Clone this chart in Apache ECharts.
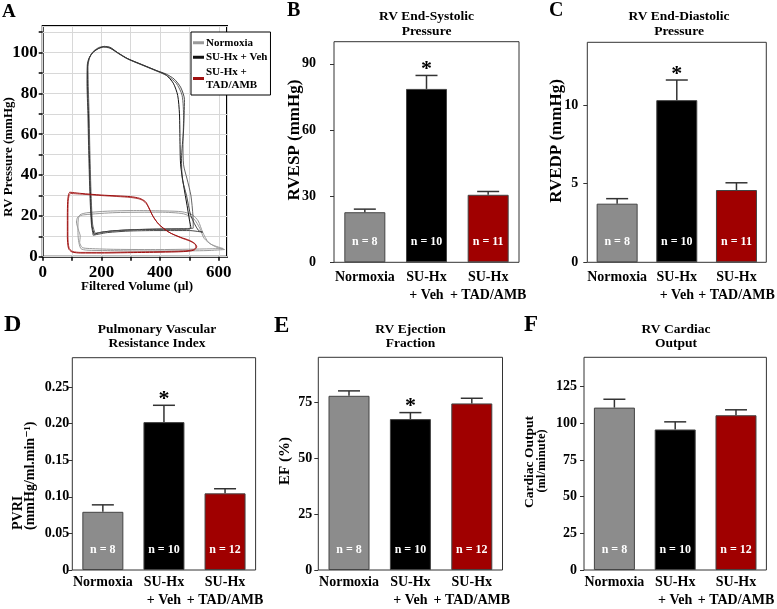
<!DOCTYPE html>
<html>
<head>
<meta charset="utf-8">
<script src="https://cdn.jsdelivr.net/npm/echarts@6/dist/echarts.min.js"></script>
<style>
  html, body { margin: 0; padding: 0; background: #fff; }
  #main { width: 777px; height: 609px; }
</style>
</head>
<body>
<div id="main"></div>
<script>
// ---- data ----
var groups = ['Normoxia', 'SU-Hx\n+ Veh', 'SU-Hx\n+ TAD/AMB'];
var barColors = ['#8c8c8c', '#000000', '#a00000'];

// B: RV end-systolic pressure (mmHg)
var rvespMean = [22.7, 78.6, 30.6];
var rvespErr = [1.4, 6.1, 1.5];
var rvespN = [8, 10, 11];
var rvespSig = ['', '*', ''];
// C: RV end-diastolic pressure (mmHg)
var rvedpMean = [3.73, 10.32, 4.6];
var rvedpErr = [0.32, 1.28, 0.46];
var rvedpN = [8, 10, 11];
var rvedpSig = ['', '*', ''];
// D: PVRI
var pvriMean = [0.0795, 0.202, 0.1047];
var pvriErr = [0.0095, 0.023, 0.0063];
var pvriN = [8, 10, 12];
var pvriSig = ['', '*', ''];
// E: ejection fraction (%)
var efMean = [77.8, 67.4, 74.4];
var efErr = [2.2, 2.9, 2.3];
var efN = [8, 10, 12];
var efSig = ['', '*', ''];
// F: cardiac output (ml/minute)
var coMean = [110.7, 95.8, 105.5];
var coErr = [5.7, 5.2, 3.7];
var coN = [8, 10, 12];
var coSig = ['', '', ''];

// A: pressure-volume loops [volume ul, pressure mmHg]
var normoxiaLoop1 = [[620,3.5],[560,3],[450,2.8],[330,2.8],[220,3],[150,3.2],[130,4],[122,8],[120,13],[121,18],[127,20.5],[150,21.5],[220,22.3],[320,22.6],[420,22.4],[475,22],[510,20.5],[530,17.5],[545,12],[565,7],[595,4.5],[620,3.5]];
var normoxiaLoop2 = [[615,4],[550,3.8],[400,3.5],[250,3.6],[160,4],[135,4.5],[126,7],[128,10],[122,13],[115,17],[120,19.5],[140,20.5],[250,21.6],[400,21.8],[480,21],[515,18.5],[535,14],[550,9],[575,6],[615,4]];
var vehLoop1 = [[175,11],[168,15],[163,30],[159,50],[156,70],[153,85],[153,93],[158,97],[170,100],[190,102],[210,103],[230,102.5],[255,100],[290,97],[340,94],[390,91],[420,89],[445,85],[460,79],[466,70],[468,55],[470,45],[480,35],[492,25],[500,18],[505,14],[490,13.5],[420,13.5],[330,13.3],[250,12.8],[200,12],[175,11]];
var vehLoop2 = [[178,11.5],[170,16],[165,30],[161,50],[158,70],[155,85],[154,93],[160,97.5],[172,100.5],[192,102.5],[212,103],[232,102],[258,99.5],[295,96.5],[345,93.5],[395,90.5],[425,88.5],[455,85],[475,79],[480,68],[478,55],[480,45],[492,38],[505,30],[512,20],[513,14],[480,13.8],[400,13.6],[300,13.2],[230,12.5],[178,11.5]];
var vehLoop3 = [[172,10.5],[166,16],[161,30],[157,50],[154,70],[151,85],[152,94],[157,97],[168,99.5],[188,101.8],[208,102.6],[228,102.2],[252,100.2],[285,97.2],[335,94.2],[385,91.3],[420,89.5],[448,87],[470,83],[483,77],[480,62],[473,48],[476,38],[490,30],[505,20],[530,13],[545,12],[500,12.8],[400,12.8],[300,12.6],[220,11.8],[172,10.5]];
var tadLoop1 = [[92,31.6],[130,31],[200,30.2],[300,29.4],[330,28.6],[350,27],[362,24],[375,20],[395,16],[430,12],[470,9.5],[500,8],[518,6.5],[525,4.8],[515,3.2],[480,2.5],[400,2.2],[300,2],[200,1.8],[130,1.8],[100,2.3],[88,4],[84,10],[84,20],[85,27],[88,30.5],[92,31.6]];
var tadLoop2 = [[95,31],[135,30.6],[205,29.9],[300,29],[335,28],[353,26],[366,22.5],[380,18.8],[400,15.2],[435,11.6],[472,9.2],[502,7.6],[520,6],[522,4.6],[512,3.4],[478,2.8],[400,2.5],[300,2.3],[200,2.1],[130,2.1],[102,2.6],[90,4.2],[86,10],[86,20],[87,27],[90,30],[95,31]];

// ---- layout ----
var serif = '"Liberation Serif", "Times New Roman", "DejaVu Serif", serif';
var chart = echarts.init(document.getElementById('main'));

var grids = [
  { left: 42.7, top: 26, width: 184.3, height: 230.7 },
  { left: 334, top: 41.7, width: 185, height: 220.6 },
  { left: 587.3, top: 42.3, width: 183.4, height: 220 },
  { left: 72.3, top: 357.7, width: 183.3, height: 219.6 },
  { left: 318.3, top: 357.3, width: 184.2, height: 220 },
  { left: 584, top: 357.3, width: 184, height: 220 }
];
grids.forEach(function (g, i) {
  g.show = true;
  g.borderColor = i === 0 ? '#000' : '#333';
  g.borderWidth = i === 0 ? 2 : 1;
  g.backgroundColor = 'transparent';
  g.containLabel = false;
});

var xAxes = [{
  gridIndex: 0, type: 'value', min: 0, max: 628, interval: 100,
  axisLine: { show: false },
  axisTick: { show: true, length: 4, lineStyle: { color: '#000', width: 1.5 } },
  splitLine: { show: true, lineStyle: { color: '#d8d8d8', width: 1 } },
  axisLabel: {
    margin: 7, showMaxLabel: false,
    fontFamily: serif, fontWeight: 'bold', fontSize: 17, color: '#000',
    formatter: function (v) { return v % 200 === 0 ? String(v) : ''; }
  }
}];
var yAxes = [{
  gridIndex: 0, type: 'value', min: 0, max: 113, interval: 10,
  axisLine: { show: false },
  axisTick: { show: true, length: 4, lineStyle: { color: '#000', width: 1.5 } },
  splitLine: { show: true, lineStyle: { color: '#d8d8d8', width: 1 } },
  axisLabel: {
    margin: 5, showMaxLabel: false,
    fontFamily: serif, fontWeight: 'bold', fontSize: 17, color: '#000',
    formatter: function (v) { return v % 20 === 0 ? String(v) : ''; }
  }
}];

var yRanges = [
  { max: 100, interval: 30, margin: 18 },
  { max: 14, interval: 5, margin: 9 },
  { max: 0.29, interval: 0.05, margin: 3, dec: 2 },
  { max: 95, interval: 25, margin: 6 },
  { max: 145, interval: 25, margin: 7 }
];
var labelMargins = [6, 6, 3, 3, 3];

yRanges.forEach(function (r, k) {
  var gi = k + 1;
  xAxes.push({
    gridIndex: gi, type: 'category', data: groups,
    axisLine: { show: false }, axisTick: { show: false },
    axisLabel: {
      margin: labelMargins[k], interval: 0,
      fontFamily: serif, fontWeight: 'bold', fontSize: 14, color: '#000', lineHeight: 18
    }
  });
  yAxes.push({
    gridIndex: gi, type: 'value', min: 0, max: r.max, interval: r.interval,
    axisLine: { show: false },
    axisTick: { show: true, length: 4, lineStyle: { color: '#333', width: 1 } },
    splitLine: { show: false },
    axisLabel: {
      margin: r.margin, showMaxLabel: false,
      fontFamily: serif, fontWeight: 'bold', fontSize: 14, color: '#000',
      formatter: function (v) {
        if (v === 0) return '0';
        return r.dec ? v.toFixed(r.dec) : String(v);
      }
    }
  });
});

// ---- series ----
var series = [];
function loop(name, data, color, width) {
  series.push({
    name: name, type: 'line', xAxisIndex: 0, yAxisIndex: 0,
    data: data, showSymbol: false, smooth: 0.25, animation: false,
    itemStyle: { color: color },
    lineStyle: { color: color, width: width }
  });
}
loop('Normoxia', normoxiaLoop1, '#9a9a9a', 1);
loop('Normoxia', normoxiaLoop2, '#9a9a9a', 1);
loop('SU-Hx + Veh', vehLoop1, '#111', 1);
loop('SU-Hx + Veh', vehLoop2, '#555', 0.9);
loop('SU-Hx + Veh', vehLoop3, '#333', 0.9);
loop('SU-Hx + TAD/AMB', tadLoop1, '#a01010', 1);
loop('SU-Hx + TAD/AMB', tadLoop2, '#a01010', 0.8);

function barPanel(gi, mean, err, n, sig) {
  series.push({
    name: 'panel' + gi, type: 'bar', xAxisIndex: gi, yAxisIndex: gi,
    barWidth: 41, animation: false,
    data: mean.map(function (m, k) {
      return { value: m, itemStyle: { color: barColors[k], borderColor: '#444', borderWidth: 1 } };
    }),
    label: {
      show: true, position: 'insideBottom', distance: 14,
      color: '#fff', fontFamily: serif, fontWeight: 'bold', fontSize: 12,
      formatter: function (p) { return 'n = ' + n[p.dataIndex]; }
    }
  });
  series.push({
    name: 'err' + gi, type: 'custom', xAxisIndex: gi, yAxisIndex: gi,
    animation: false, z: 3,
    data: mean.map(function (m, k) { return [k, m, m + err[k]]; }),
    renderItem: function (params, api) {
      var k = api.value(0);
      var base = api.coord([k, api.value(1)]);
      var top = api.coord([k, api.value(2)]);
      var st = { stroke: '#333', lineWidth: 1.5 };
      var kids = [
        { type: 'line', shape: { x1: base[0], y1: base[1], x2: top[0], y2: top[1] }, style: st },
        { type: 'line', shape: { x1: top[0] - 11, y1: top[1], x2: top[0] + 11, y2: top[1] }, style: st }
      ];
      if (sig[k]) {
        kids.push({
          type: 'text', x: top[0], y: top[1] + 5,
          style: { text: sig[k], fill: '#000', font: 'bold 22px ' + serif, align: 'center', verticalAlign: 'bottom' }
        });
      }
      return { type: 'group', children: kids };
    }
  });
}
barPanel(1, rvespMean, rvespErr, rvespN, rvespSig);
barPanel(2, rvedpMean, rvedpErr, rvedpN, rvedpSig);
barPanel(3, pvriMean, pvriErr, pvriN, pvriSig);
barPanel(4, efMean, efErr, efN, efSig);
barPanel(5, coMean, coErr, coN, coSig);

// ---- titles, panel letters, axis names ----
function letter(t, x, y, size) {
  return { text: t, left: x, top: y, padding: 0,
    textStyle: { fontFamily: serif, fontWeight: 'bold', fontSize: size, color: '#000' } };
}
function head(t, cx, y, lh) {
  return { text: t, left: cx, top: y, textAlign: 'center', padding: 0,
    textStyle: { fontFamily: serif, fontWeight: 'bold', fontSize: 13.5, lineHeight: lh, color: '#000' } };
}
var titles = [
  letter('A', 2, 3, 19), letter('B', 287, 1, 20), letter('C', 549, 1, 20),
  letter('D', 4, 313, 24), letter('E', 274, 315, 23), letter('F', 524, 314, 23),
  head('RV End-Systolic\nPressure', 426.5, 9, 15),
  head('RV End-Diastolic\nPressure', 679, 9, 15),
  head('Pulmonary Vascular\nResistance Index', 157, 323, 14),
  head('RV Ejection\nFraction', 410.5, 323, 14),
  head('RV Cardiac\nOutput', 676, 323, 14)
];

function vname(t, x, y, size) {
  return { type: 'text', x: x, y: y, rotation: Math.PI / 2,
    style: { text: t, fill: '#000', font: 'bold ' + size + 'px ' + serif, align: 'center', verticalAlign: 'middle' } };
}
var graphics = [
  vname('RV Pressure (mmHg)', 9, 157, 13),
  { type: 'text', x: 137, y: 287,
    style: { text: 'Filtered Volume (\u03bcl)', fill: '#000', font: 'bold 13px ' + serif, align: 'center', verticalAlign: 'middle' } },
  vname('RVESP (mmHg)', 295, 140, 17),
  vname('RVEDP (mmHg)', 556.7, 141, 17),
  { type: 'text', x: 18, y: 530, rotation: Math.PI / 2,
    style: { text: 'PVRI', fill: '#000', font: 'bold 14px ' + serif, align: 'left', verticalAlign: 'middle' } },
  { type: 'text', x: 30, y: 530, rotation: Math.PI / 2,
    style: { text: '(mmHg/ml.min\u207b\u00b9)', fill: '#000', font: 'bold 14px ' + serif, align: 'left', verticalAlign: 'middle' } },
  vname('EF (%)', 285, 461, 15),
  vname('Cardiac Output', 530, 462, 13.5),
  vname('(ml/minute)', 542, 461, 12.5)
];

chart.setOption({
  animation: false,
  backgroundColor: '#fff',
  title: titles,
  legend: {
    data: ['Normoxia', 'SU-Hx + Veh', 'SU-Hx + TAD/AMB'],
    orient: 'vertical', left: 191, top: 32, z: 10,
    padding: [4, 3, 3, 2], itemGap: 1,
    itemWidth: 11, itemHeight: 3, icon: 'rect',
    borderColor: '#000', borderWidth: 1, backgroundColor: '#fff',
    selectedMode: false,
    textStyle: { fontFamily: serif, fontWeight: 'bold', fontSize: 11, lineHeight: 13.5, color: '#000', padding: [0, 0, 0, -3] },
    formatter: function (name) { return name === 'SU-Hx + TAD/AMB' ? 'SU-Hx +\nTAD/AMB' : name; }
  },
  grid: grids,
  xAxis: xAxes,
  yAxis: yAxes,
  series: series,
  graphic: graphics
});
</script>
</body>
</html>
